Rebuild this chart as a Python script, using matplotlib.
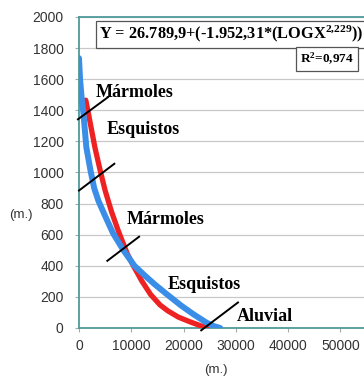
import matplotlib
matplotlib.use("Agg")
import matplotlib.pyplot as plt

# observed profile (blue) and fitted curve (red): distance (m) vs elevation (m)
obs_x = [0, 200, 550, 850, 1400, 2200, 2900, 3700, 5000, 6500, 8500, 10600,
         12500, 14500, 16800, 19500, 21900, 24400, 25800, 27000]
obs_y = [1735, 1600, 1465, 1380, 1163, 1013, 900, 819, 720, 610, 500, 400,
         340, 280, 217, 145, 88, 34, 12, 0]

fit_x = [1300, 1800, 3050, 4050, 5000, 6200, 7500, 9200, 10400, 12000,
         13700, 15500, 17000, 19000, 21200, 23200, 24500]
fit_y = [1465, 1380, 1160, 1013, 884, 750, 626, 480, 400, 303,
         215, 148, 110, 70, 40, 15, 3]

# lithology labels and contact marks
labels = ["Mármoles", "Esquistos", "Mármoles", "Esquistos", "Aluvial"]
label_x = [3190, 5350, 9120, 17020, 30150]
label_y = [1516, 1278, 699, 280, 74]
contacts = [((-200, 5540), (1342, 1484)),
            ((0, 6760), (884, 1056)),
            ((5420, 11490), (432, 587)),
            ((23370, 30400), (-15, 164))]

equation = r"Y = 26.789,9+(-1.952,31*(LOGX$^{\mathbf{2{,}229}}$))"
r2_text = r"R$^{\mathbf{2}}$=0,974"

plt.rcParams["mathtext.fontset"] = "custom"
plt.rcParams["mathtext.rm"] = "Liberation Serif:bold"
plt.rcParams["mathtext.bf"] = "Liberation Serif:bold"
plt.rcParams["mathtext.it"] = "Liberation Serif:bold"

teal = "#4f9a9c"
fig = plt.figure(figsize=(3.64, 3.78), dpi=100)
ax = fig.add_axes([0.217, 0.1323, 0.783, 0.8228])

ax.plot(fit_x, fit_y, color="#ee2222", lw=3.8, solid_capstyle="round", zorder=3)
ax.plot(obs_x, obs_y, color="#3a8ee8", lw=4.3, solid_capstyle="round", zorder=4)

for (xs, ys) in contacts:
    ax.plot(xs, ys, color="black", lw=1.4, zorder=5, clip_on=False)

for t, x, y in zip(labels, label_x, label_y):
    ax.text(x, y, t, family="Liberation Serif", weight="bold", fontsize=13,
            va="center", ha="left", zorder=6)

ax.text(0.07, 0.945, equation, transform=ax.transAxes, family="Liberation Serif",
        weight="bold", fontsize=11.8, va="center", ha="left", zorder=6,
        bbox=dict(boxstyle="square,pad=0.2", fc="white", ec="#555555", lw=0.9))
ax.text(0.87, 0.865, r2_text, transform=ax.transAxes, family="Liberation Serif",
        weight="bold", fontsize=9.5, va="center", ha="center", zorder=6,
        bbox=dict(boxstyle="square,pad=0.3", fc="white", ec="#555555", lw=0.9))

ax.set_xlim(0, 54500)
ax.set_ylim(0, 2000)
ax.set_xticks([0, 10000, 20000, 30000, 40000, 50000])
ax.set_yticks(range(0, 2001, 200))
ax.grid(axis="y", color="#c8c8c8", lw=0.9)
ax.set_axisbelow(True)

for s in ["left", "bottom", "top"]:
    ax.spines[s].set_color(teal)
    ax.spines[s].set_linewidth(1.3)
ax.spines["right"].set_visible(False)

ax.tick_params(axis="both", colors="#aaaaaa", length=3, width=0.8,
               labelcolor="#333333", labelsize=10)
ax.tick_params(axis="y", pad=8)
ax.tick_params(axis="x", pad=5)
for lab in ax.get_xticklabels() + ax.get_yticklabels():
    lab.set_family("Liberation Sans")

fig.text(21 / 364, 1 - 215 / 378, "(m.)", family="Liberation Sans", fontsize=9.5,
         color="#333333", ha="center", va="center")
fig.text(216 / 364, 1 - 370 / 378, "(m.)", family="Liberation Sans", fontsize=9.5,
         color="#333333", ha="center", va="center")

fig.savefig("out.png", dpi=100)
